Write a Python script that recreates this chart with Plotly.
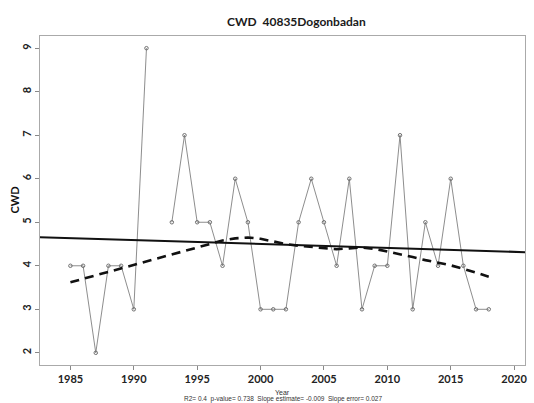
import numpy as np
import plotly.graph_objects as go

years = [1985, 1986, 1987, 1988, 1989, 1990, 1991, 1992, 1993, 1994, 1995, 1996,
         1997, 1998, 1999, 2000, 2001, 2002, 2003, 2004, 2005, 2006, 2007, 2008,
         2009, 2010, 2011, 2012, 2013, 2014, 2015, 2016, 2017, 2018]
cwd = [4, 4, 2, 4, 4, 3, 9, None, 5, 7, 5, 5,
       4, 6, 5, 3, 3, 3, 5, 6, 5, 4, 6, 3,
       4, 4, 7, 3, 5, 4, 6, 4, 3, 3]
# LOWESS smooth (no value for 1992)
smooth = [3.62, 3.70, 3.78, 3.86, 3.94, 4.02, 4.10, None, 4.27, 4.35, 4.43, 4.51,
          4.58, 4.63, 4.65, 4.62, 4.56, 4.50, 4.46, 4.43, 4.40, 4.38, 4.40, 4.42,
          4.39, 4.33, 4.27, 4.20, 4.13, 4.07, 4.01, 3.93, 3.84, 3.75]
x_ticks = [1985, 1990, 1995, 2000, 2005, 2010, 2015, 2020]
y_ticks = [2, 3, 4, 5, 6, 7, 8, 9]
title_text = "CWD  40835Dogonbadan"
stats_text = "R2= 0.4  p-value= 0.738  Slope estimate= -0.009  Slope error= 0.027"

x_range = [1982.6, 2020.86]
y_range = [1.72, 9.28]

# Linear fit (ordinary least squares) from the observed values
xv = np.array([y for y, v in zip(years, cwd) if v is not None], float)
yv = np.array([v for v in cwd if v is not None], float)
slope, intercept = np.polyfit(xv, yv, 1)
fit_x = np.array(x_range)
fit_y = intercept + slope * fit_x

sm_x = [y for y, v in zip(years, smooth) if v is not None]
sm_y = [v for v in smooth if v is not None]

fig = go.Figure()
fig.add_trace(go.Scatter(
    x=years, y=cwd, mode="lines+markers", connectgaps=False,
    line=dict(color="#808080", width=0.9),
    marker=dict(symbol="circle-open", size=3.5, color="#707070", line=dict(width=1)),
    showlegend=False, hoverinfo="skip"))
fig.add_trace(go.Scatter(
    x=fit_x, y=fit_y, mode="lines", line=dict(color="#111111", width=2),
    showlegend=False, hoverinfo="skip", cliponaxis=True))
fig.add_trace(go.Scatter(
    x=sm_x, y=sm_y, mode="lines", line=dict(color="#111111", width=2.6, dash="9px,6px"),
    showlegend=False, hoverinfo="skip"))

font_family = "Lato, 'DejaVu Sans', sans-serif"
plot_w = 534 - 40 - 7
plot_h = 403 - 36 - 38
fig.update_layout(
    width=534, height=403,
    margin=dict(l=40, r=7, t=36, b=38),
    paper_bgcolor="white", plot_bgcolor="white",
    font=dict(family=font_family, color="#222222"),
    xaxis=dict(range=x_range, tickvals=x_ticks, ticks="outside", ticklen=4,
               tickcolor="#888888", showgrid=False, zeroline=False,
               showline=True, linecolor="#aaaaaa", linewidth=1, mirror=True,
               tickfont=dict(size=11, weight="bold", color="#222222")),
    yaxis=dict(range=y_range, tickvals=y_ticks, ticks="outside", ticklen=4,
               tickcolor="#888888", showgrid=False, zeroline=False,
               showline=True, linecolor="#aaaaaa", linewidth=1, mirror=True,
               tickangle=-90,
               tickfont=dict(size=11, weight="bold", color="#222222")),
    annotations=[
        dict(text=title_text, x=(298 - 40) / plot_w, y=(403 - 21 - 38) / plot_h,
             xref="paper", yref="paper", xanchor="center", yanchor="middle",
             showarrow=False, font=dict(size=12, weight="bold", color="#1a1a1a")),
        dict(text="CWD", x=(14 - 40) / plot_w, y=0.5, xref="paper", yref="paper",
             textangle=-90, showarrow=False,
             font=dict(size=11, weight="bold", color="#111111"),
             xanchor="center", yanchor="middle"),
        dict(text="Year", x=0.5, y=0, xref="paper", yref="paper", yshift=-27,
             showarrow=False, font=dict(size=7, color="#333333", family="Liberation Sans"),
             xanchor="center", yanchor="middle"),
        dict(text=stats_text, x=0.5, y=0, xref="paper", yref="paper", yshift=-34,
             showarrow=False, font=dict(size=6.5, color="#333333", family="Liberation Sans"),
             xanchor="center", yanchor="middle"),
    ],
)

fig.write_html("out.html")
